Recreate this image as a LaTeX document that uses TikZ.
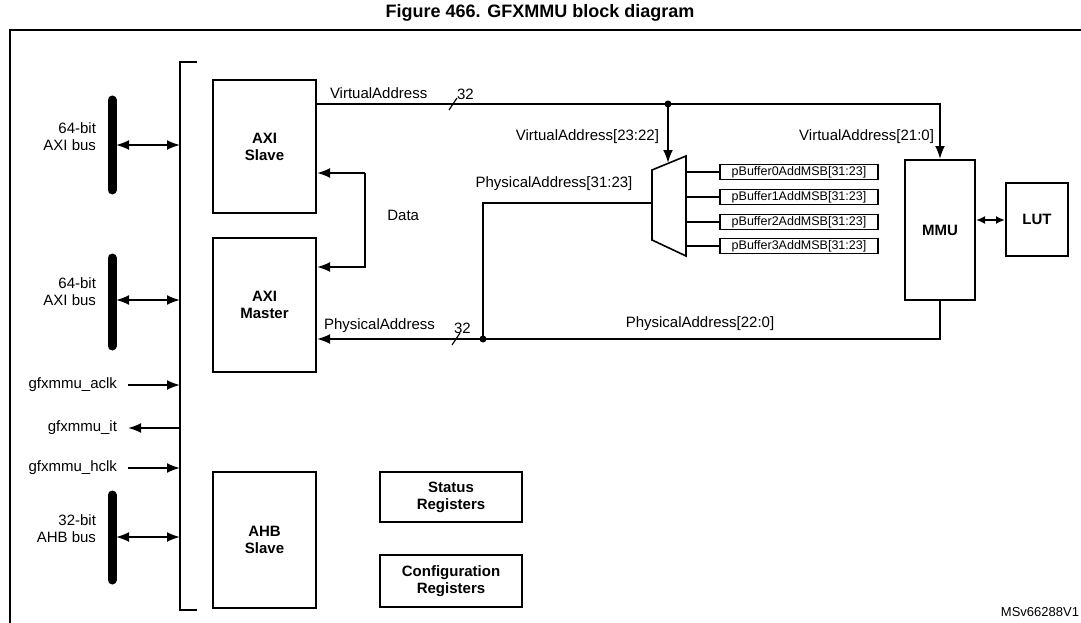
\documentclass[tikz,border=0pt]{standalone}
\usepackage{fontspec}
\setmainfont{Liberation Sans}
\usetikzlibrary{arrows.meta}
\begin{document}
\begin{tikzpicture}[x=1pt,y=-1pt,line width=2pt,
  font=\fontsize{15}{17}\selectfont,
  blk/.style={draw,rectangle,font=\fontsize{15}{17}\selectfont\bfseries,align=center},
  buf/.style={draw,line width=1.2pt,rectangle,minimum width=158pt,minimum height=15pt,inner sep=0pt,font=\fontsize{12.5}{13}\selectfont},
  arr/.style={-{Latex[length=13pt,width=10pt]}},
  darr/.style={{Latex[length=13pt,width=10pt]}-{Latex[length=13pt,width=10pt]}},
  sdarr/.style={{Latex[length=9pt,width=8pt]}-{Latex[length=9pt,width=8pt]}},
  bar/.style={line width=9pt,line cap=round},
  lbl/.style={align=right,anchor=east,inner sep=0pt}]
\useasboundingbox (0,0) rectangle (1081,623);
\node[font=\fontsize{18}{20}\selectfont\bfseries,inner sep=0pt] (title) at (540,13) {Figure 466. GFXMMU block diagram};
\draw (10,623) -- (10,30) -- (1081,30);
% bracket
\draw (197,62) -- (180,62) -- (180,610) -- (197,610);
% blocks
\node[blk,minimum width=103pt,minimum height=133pt] (slave) at (264.5,146.5) {AXI\\Slave};
\node[blk,minimum width=103pt,minimum height=134pt] (master) at (264.5,305) {AXI\\Master};
\node[blk,minimum width=103pt,minimum height=136pt] (ahb) at (264.5,540) {AHB\\Slave};
\node[blk,minimum width=142pt,minimum height=50pt] (status) at (451,497) {Status\\Registers};
\node[blk,minimum width=142pt,minimum height=52pt] (config) at (451,581) {Configuration\\Registers};
\node[blk,minimum width=70pt,minimum height=140pt] (mmu) at (940,230) {MMU};
\node[blk,minimum width=62pt,minimum height=73pt] (lut) at (1037,219.5) {LUT};
% buses
\coordinate (b1t) at (112,100); \coordinate (b1b) at (112,190);
\coordinate (b2t) at (112,258); \coordinate (b2b) at (112,346);
\coordinate (b3t) at (112,495); \coordinate (b3b) at (112,580);
\draw[bar] (b1t) -- (b1b); \draw[bar] (b2t) -- (b2b); \draw[bar] (b3t) -- (b3b);
\coordinate (a1) at (116,145); \coordinate (c1) at (180,145);
\coordinate (a2) at (116,300); \coordinate (c2) at (180,300);
\coordinate (a3) at (116,537); \coordinate (c3) at (180,537);
\draw[darr] (a1) -- (c1); \draw[darr] (a2) -- (c2); \draw[darr] (a3) -- (c3);
\node[lbl] (l1) at (97,137) {64-bit\\AXI bus};
\node[lbl] (l2) at (97,292) {64-bit\\AXI bus};
\node[lbl] (l3) at (97,529) {32-bit\\AHB bus};
% clocks
\node[lbl] (aclk) at (118,385) {gfxmmu\_aclk};
\node[lbl] (it) at (118,428) {gfxmmu\_it};
\node[lbl] (hclk) at (118,468) {gfxmmu\_hclk};
\coordinate (aclkE) at (180,385); \coordinate (itE) at (180,428); \coordinate (hclkE) at (180,468);
\draw[arr] (128,385) -- (aclkE);
\draw[arr] (itE) -- ([xshift=10pt]it.east);
\draw[arr] (128,468) -- (hclkE);
% mux
\draw[line width=1.6pt] (652,170) coordinate (muxtl) -- (686,156) -- (686,256) -- (652,240) -- cycle;
\coordinate (muxin) at (668,163);
\coordinate (muxleft) at (652,203);
% buffers
\foreach \i/\y in {0/172,1/197,2/222,3/246}{
  \node[buf] (pb\i) at (799,\y) {\raisebox{-1.5pt}{pBuffer\i AddMSB[31:23]}};
  \draw[line width=1.4pt] (686,\y) -- (pb\i.west);
}
% virtual address
\coordinate (vdot) at (668,104);
\draw[arr] (slave.east |- 0,104) -- (940,104) -- (mmu.north);
\fill (vdot) circle (3.5pt);
\draw[arr] (vdot) -- (muxin);
\draw[line width=1.2pt] (449,110) -- (457,98);
\node[anchor=south west,inner sep=1pt] (va) at (328,101) {VirtualAddress};
\node[anchor=south west,inner sep=1pt] (va32) at (455,102) {32};
\node[lbl] (va2322) at (660,137) {VirtualAddress[23:22]};
\node[lbl] (va210) at (935,137) {VirtualAddress[21:0]};
% data
\coordinate (d1) at (365,173); \coordinate (d2) at (365,267);
\draw[arr] (d1) -- (slave.east |- d1);
\draw[arr] (d1) -- (d2) -- (master.east |- d2);
\node[anchor=west] (data) at (383,215) {Data};
% physical address
\coordinate (pdot) at (483,339);
\draw (muxleft) -- (483,203) -- (pdot);
\draw[arr] (mmu.south) -- (940,339) -- (master.east |- 0,339);
\fill (pdot) circle (3.5pt);
\draw[line width=1.2pt] (452,345) -- (460,333);
\node[anchor=south west,inner sep=1pt] (pa) at (322,335) {PhysicalAddress};
\node[anchor=south west,inner sep=1pt] (pa32) at (452,336) {32};
\node[anchor=south] (pa2322) at (554,195) {PhysicalAddress[31:23]};
\node[anchor=south] (pa220) at (700,335) {PhysicalAddress[22:0]};
% MMU-LUT
\draw[sdarr] (mmu.east |- 0,220) -- (lut.west |- 0,220);
\node[anchor=east,inner sep=1pt,font=\fontsize{13}{15}\selectfont] (ms) at (1081,612) {MSv66288V1};
\end{tikzpicture}
\end{document}
